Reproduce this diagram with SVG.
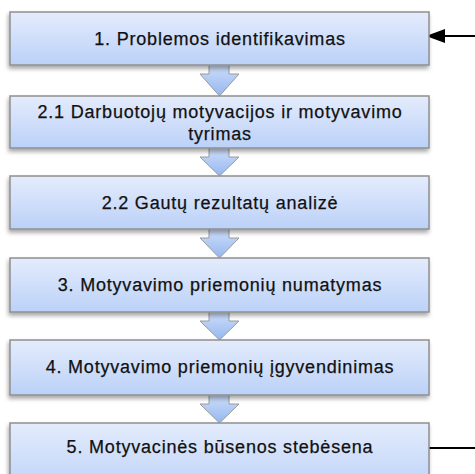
<svg xmlns="http://www.w3.org/2000/svg" width="475" height="474" viewBox="0 0 475 474">
<defs>
<linearGradient id="boxGrad" x1="0" y1="0" x2="0" y2="1">
<stop offset="0" stop-color="#e4ecfc"/>
<stop offset="1" stop-color="#bbd1f8"/>
</linearGradient>
<linearGradient id="chevGrad" x1="0" y1="0" x2="0" y2="1">
<stop offset="0" stop-color="#d3e1fa"/>
<stop offset="1" stop-color="#94b7f0"/>
</linearGradient>
<filter id="shadow" x="-10%" y="-20%" width="120%" height="150%">
<feDropShadow dx="-1" dy="3" stdDeviation="2" flood-color="#000" flood-opacity="0.35"/>
</filter>
</defs>
<style>
.box { fill: url(#boxGrad); stroke: #8f8f8f; stroke-width: 1.5; filter: url(#shadow); }
.chev { fill: url(#chevGrad); stroke: #9a9a9a; stroke-width: 1; }
.label { font-family: "Liberation Sans", Arial, sans-serif; font-size: 18px; fill: #111; stroke: #111; stroke-width: 0.25; text-anchor: middle; letter-spacing: 0.8px; }
.line { stroke: #000; stroke-width: 2; fill: none; }
</style>

<g id="connectors">
<path class="chev" d="M209,62 L229,62 L229,74 L239,74 L219.5,96 L200,74 L209,74 Z"/>
<path class="chev" d="M209,146 L229,146 L229,157 L239,157 L219.5,176 L200,157 L209,157 Z"/>
<path class="chev" d="M209,227 L229,227 L229,238 L239,238 L219.5,258 L200,238 L209,238 Z"/>
<path class="chev" d="M209,310 L229,310 L229,321 L239,321 L219.5,340 L200,321 L209,321 Z"/>
<path class="chev" d="M209,393 L229,393 L229,404 L239,404 L219.5,423 L200,404 L209,404 Z"/>
<line class="line" x1="475" y1="36" x2="440" y2="36"/>
<path d="M426,36 L445,29 L445,43 Z" fill="#000"/>
<line class="line" x1="429" y1="448" x2="475" y2="448"/>
</g>

<g id="node1">
<rect class="box" x="10" y="12" width="419" height="53"/>
<text class="label" x="220" y="45">1. Problemos identifikavimas</text>
</g>
<g id="node21">
<rect class="box" x="10" y="96" width="419" height="52"/>
<text class="label" x="220" y="118">2.1 Darbuotojų motyvacijos ir motyvavimo</text>
<text class="label" x="220" y="140">tyrimas</text>
</g>
<g id="node22">
<rect class="box" x="10" y="176" width="419" height="53"/>
<text class="label" x="220" y="209">2.2 Gautų rezultatų analizė</text>
</g>
<g id="node3">
<rect class="box" x="10" y="258" width="419" height="54"/>
<text class="label" x="220" y="291">3. Motyvavimo priemonių numatymas</text>
</g>
<g id="node4">
<rect class="box" x="10" y="340" width="419" height="55"/>
<text class="label" x="220" y="373">4. Motyvavimo priemonių įgyvendinimas</text>
</g>
<g id="node5">
<rect class="box" x="10" y="423" width="419" height="70"/>
<text class="label" x="220" y="453">5. Motyvacinės būsenos stebėsena</text>
</g>
</svg>
